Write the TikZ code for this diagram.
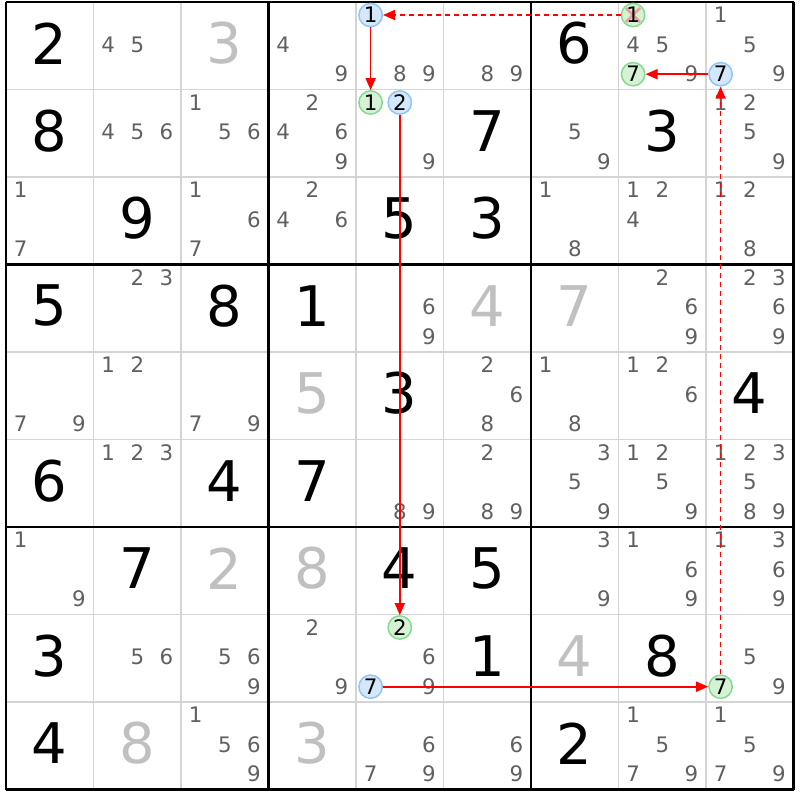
\documentclass[tikz,border=0pt]{standalone}
\usepackage{fontspec}
\setmainfont{DejaVu Sans}
\usetikzlibrary{arrows.meta}
\definecolor{candgrey}{HTML}{606060}
\definecolor{givengrey}{HTML}{C0C0C0}
\definecolor{thingrid}{HTML}{D4D4D4}
\definecolor{bluefill}{HTML}{D5E8FB}
\definecolor{blueline}{HTML}{90C4F4}
\definecolor{greenfill}{HTML}{D5F2D5}
\definecolor{greenline}{HTML}{85D98F}
\definecolor{elimx}{HTML}{F29A9A}
\definecolor{chainred}{HTML}{FF0000}
\tikzset{
  cand/.style={inner sep=0pt, text=candgrey, font=\fontsize{16}{19}\selectfont},
  givenblack/.style={inner sep=0pt, text=black, font=\fontsize{42}{50}\selectfont},
  givenlight/.style={inner sep=0pt, text=givengrey, font=\fontsize{42}{50}\selectfont},
  candon/.style={circle, inner sep=0pt, minimum size=17.5pt, line width=1.1pt, text=black, font=\fontsize{16}{19}\selectfont},
  bluecand/.style={candon, draw=blueline, fill=bluefill},
  greencand/.style={candon, draw=greenline, fill=greenfill},
  elimcand/.style={greencand, path picture={
     \draw[elimx, line width=2pt] ([shift={(3.5pt,-3.5pt)}]path picture bounding box.north west) -- ([shift={(-3.5pt,3.5pt)}]path picture bounding box.south east);
     \draw[elimx, line width=2pt] ([shift={(-3.5pt,-3.5pt)}]path picture bounding box.north east) -- ([shift={(3.5pt,3.5pt)}]path picture bounding box.south west);}},
  thinline/.style={thingrid, line width=1.1pt},
  thickline/.style={black, line width=1.8pt},
  strong/.style={draw=chainred, line width=1.2pt, -{Triangle[length=9pt,width=7.5pt,fill=chainred]}},
  weak/.style={draw=chainred, line width=1.2pt, dash pattern=on 3.75pt off 3pt, -{Triangle[length=9pt,width=7.5pt,fill=chainred,sep=0pt]}}
}
\newcommand\sdcands[3]{%
  \foreach \d in {#3}{%
    \pgfmathsetmacro\cx{6+87.5*#2+14.6+29.2*mod(\d-1,3)}%
    \pgfmathsetmacro\cy{2+87.5*#1+13+29.6*int((\d-1)/3)}%
    \node[cand] (k#1#2\d) at (\cx,\cy) {\d};
  }}
\newcommand\sdgiven[4]{%
  \pgfmathsetmacro\gx{6+87.5*#2+43.75}%
  \pgfmathsetmacro\gy{2+87.5*#1+41.25}%
  \node[#4] (g#1#2) at (\gx,\gy) {#3};}
\newcommand\sdchain[5]{% name, style, r, c, d
  \pgfmathsetmacro\hx{6+87.5*#4+14.6+29.2*mod(#5-1,3)}%
  \pgfmathsetmacro\hy{2+87.5*#3+13+29.6*int((#5-1)/3)}%
  \node[#2] (#1) at (\hx,\hy) {#5};}
\begin{document}
\begin{tikzpicture}[x=0.75pt,y=-0.75pt]
\useasboundingbox (0,0) rectangle (800,800);
\fill[white] (0,0) rectangle (800,800);
% thin grid
\foreach \i in {1,2,4,5,7,8}{
  \draw[thinline] ({6+87.5*\i},2) -- ({6+87.5*\i},789.5);
  \draw[thinline] (6,{2+87.5*\i}) -- (793.5,{2+87.5*\i});
}
% thick grid
\foreach \i in {0,3,6,9}{
  \draw[thickline] ({6+87.5*\i},2) -- ({6+87.5*\i},789.5);
  \draw[thickline] (6,{2+87.5*\i}) -- (793.5,{2+87.5*\i});
}
% givens
\sdgiven{0}{0}{2}{givenblack}
\sdgiven{0}{6}{6}{givenblack}
\sdgiven{1}{0}{8}{givenblack}
\sdgiven{1}{5}{7}{givenblack}
\sdgiven{1}{7}{3}{givenblack}
\sdgiven{2}{1}{9}{givenblack}
\sdgiven{2}{4}{5}{givenblack}
\sdgiven{2}{5}{3}{givenblack}
\sdgiven{3}{0}{5}{givenblack}
\sdgiven{3}{2}{8}{givenblack}
\sdgiven{3}{3}{1}{givenblack}
\sdgiven{4}{4}{3}{givenblack}
\sdgiven{4}{8}{4}{givenblack}
\sdgiven{5}{0}{6}{givenblack}
\sdgiven{5}{2}{4}{givenblack}
\sdgiven{5}{3}{7}{givenblack}
\sdgiven{6}{1}{7}{givenblack}
\sdgiven{6}{4}{4}{givenblack}
\sdgiven{6}{5}{5}{givenblack}
\sdgiven{7}{0}{3}{givenblack}
\sdgiven{7}{5}{1}{givenblack}
\sdgiven{7}{7}{8}{givenblack}
\sdgiven{8}{0}{4}{givenblack}
\sdgiven{8}{6}{2}{givenblack}
\sdgiven{0}{2}{3}{givenlight}
\sdgiven{3}{5}{4}{givenlight}
\sdgiven{3}{6}{7}{givenlight}
\sdgiven{4}{3}{5}{givenlight}
\sdgiven{6}{2}{2}{givenlight}
\sdgiven{6}{3}{8}{givenlight}
\sdgiven{7}{6}{4}{givenlight}
\sdgiven{8}{1}{8}{givenlight}
\sdgiven{8}{3}{3}{givenlight}
% candidates
\sdcands{0}{1}{4,5}
\sdcands{0}{3}{4,9}
\sdcands{0}{4}{8,9}
\sdcands{0}{5}{8,9}
\sdcands{0}{7}{4,5,9}
\sdcands{0}{8}{1,5,9}
\sdcands{1}{1}{4,5,6}
\sdcands{1}{2}{1,5,6}
\sdcands{1}{3}{2,4,6,9}
\sdcands{1}{4}{9}
\sdcands{1}{6}{5,9}
\sdcands{1}{8}{1,2,5,9}
\sdcands{2}{0}{1,7}
\sdcands{2}{2}{1,6,7}
\sdcands{2}{3}{2,4,6}
\sdcands{2}{6}{1,8}
\sdcands{2}{7}{1,2,4}
\sdcands{2}{8}{1,2,8}
\sdcands{3}{1}{2,3}
\sdcands{3}{4}{6,9}
\sdcands{3}{7}{2,6,9}
\sdcands{3}{8}{2,3,6,9}
\sdcands{4}{0}{7,9}
\sdcands{4}{1}{1,2}
\sdcands{4}{2}{7,9}
\sdcands{4}{5}{2,6,8}
\sdcands{4}{6}{1,8}
\sdcands{4}{7}{1,2,6}
\sdcands{5}{1}{1,2,3}
\sdcands{5}{4}{8,9}
\sdcands{5}{5}{2,8,9}
\sdcands{5}{6}{3,5,9}
\sdcands{5}{7}{1,2,5,9}
\sdcands{5}{8}{1,2,3,5,8,9}
\sdcands{6}{0}{1,9}
\sdcands{6}{6}{3,9}
\sdcands{6}{7}{1,6,9}
\sdcands{6}{8}{1,3,6,9}
\sdcands{7}{1}{5,6}
\sdcands{7}{2}{5,6,9}
\sdcands{7}{3}{2,9}
\sdcands{7}{4}{6,9}
\sdcands{7}{8}{5,9}
\sdcands{8}{2}{1,5,6,9}
\sdcands{8}{4}{6,7,9}
\sdcands{8}{5}{6,9}
\sdcands{8}{7}{1,5,7,9}
\sdcands{8}{8}{1,5,7,9}
% chain candidates
\sdchain{a0}{elimcand}{0}{7}{1}
\sdchain{a1}{bluecand}{0}{4}{1}
\sdchain{a2}{greencand}{1}{4}{1}
\sdchain{a3}{bluecand}{1}{4}{2}
\sdchain{a4}{greencand}{7}{4}{2}
\sdchain{a5}{bluecand}{7}{4}{7}
\sdchain{a6}{greencand}{7}{8}{7}
\sdchain{a7}{bluecand}{0}{8}{7}
\sdchain{a8}{greencand}{0}{7}{7}
% chain links
\draw[weak]   (a0) -- (a1);
\draw[strong] (a1) -- (a2);
\draw[strong] (a3) -- (a4);
\draw[strong] (a5) -- (a6);
\draw[weak]   (a6) -- (a7);
\draw[strong] (a7) -- (a8);
\end{tikzpicture}
\end{document}
